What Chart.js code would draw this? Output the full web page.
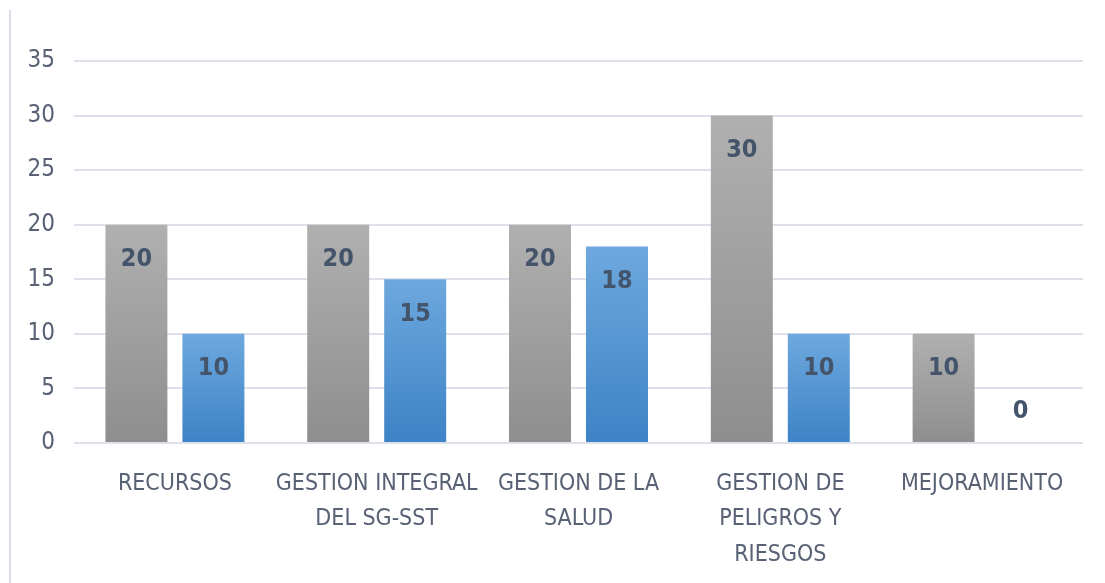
<!DOCTYPE html>
<html>
<head>
<meta charset="utf-8">
<script src="https://cdn.jsdelivr.net/npm/chart.js@4.4.0/dist/chart.umd.min.js"></script>
<style>
  html, body { margin: 0; padding: 0; background: #fff; }
  #wrap { width: 1105px; height: 583px; }
</style>
</head>
<body>
<div id="wrap"><canvas id="barChart"></canvas></div>
<script>
const categories = [
  ['RECURSOS'],
  ['GESTION INTEGRAL', 'DEL SG-SST'],
  ['GESTION DE LA', 'SALUD'],
  ['GESTION DE', 'PELIGROS Y', 'RIESGOS'],
  ['MEJORAMIENTO'],
];
const grayValues = [20, 20, 20, 30, 10];
const blueValues = [10, 15, 18, 10, 0];
const yTicks = [0, 5, 10, 15, 20, 25, 30, 35];

const fontFamily = "'Liberation Sans Narrow', 'DejaVu Sans Condensed', 'Liberation Sans', sans-serif";

// degradado por barra, del tope a la base
function barGradient(top, bottom) {
  return function (context) {
    const chart = context.chart;
    const yScale = chart.scales.y;
    if (!chart.chartArea || !yScale || context.parsed === undefined) return bottom;
    const yTop = yScale.getPixelForValue(context.parsed.y);
    const yBase = yScale.getPixelForValue(0);
    if (yBase - yTop < 1) return bottom;
    const g = chart.ctx.createLinearGradient(0, yTop, 0, yBase);
    g.addColorStop(0, top);
    g.addColorStop(1, bottom);
    return g;
  };
}

// linea del borde izquierdo
const frameLine = {
  id: 'frameLine',
  beforeDraw(chart) {
    const c = chart.ctx;
    c.save();
    c.strokeStyle = '#d9dde6';
    c.lineWidth = 2;
    c.beginPath();
    c.moveTo(10, 10);
    c.lineTo(10, chart.height);
    c.stroke();
    c.restore();
  },
};

// etiquetas de valor dentro de las barras
const valueLabels = {
  id: 'valueLabels',
  afterDatasetsDraw(chart) {
    const c = chart.ctx;
    c.save();
    c.font = 'bold 25px ' + fontFamily;
    c.fillStyle = '#44546a';
    c.textAlign = 'center';
    c.textBaseline = 'middle';
    chart.data.datasets.forEach((ds, i) => {
      const meta = chart.getDatasetMeta(i);
      meta.data.forEach((bar, j) => {
        const v = ds.data[j];
        const y = v === 0 ? bar.y - 32 : bar.y + 35;
        c.fillText(String(v), bar.x, y);
      });
    });
    c.restore();
  },
};

const ctx = document.getElementById('barChart');
const barChart = new Chart(ctx, {
  type: 'bar',
  data: {
    labels: categories,
    datasets: [
      {
        label: 'Serie 1',
        data: grayValues,
        backgroundColor: barGradient('#b0b0b0', '#8e8e8e'),
        categoryPercentage: 0.763,
        barPercentage: 0.805,
      },
      {
        label: 'Serie 2',
        data: blueValues,
        backgroundColor: barGradient('#6ea8de', '#3d83c6'),
        categoryPercentage: 0.763,
        barPercentage: 0.805,
      },
    ],
  },
  options: {
    responsive: true,
    maintainAspectRatio: false,
    animation: false,
    layout: {
      padding: { top: 61, right: 22, left: 0, bottom: 0 },
    },
    plugins: {
      legend: { display: false },
      tooltip: { enabled: false },
    },
    scales: {
      x: {
        grid: { display: false },
        border: { display: false },
        ticks: {
          color: '#586274',
          font: { family: fontFamily, size: 23, lineHeight: 1.54 },
          padding: 15,
          maxRotation: 0,
          autoSkip: false,
        },
        afterFit(scale) { scale.height = 140; },
      },
      y: {
        min: 0,
        max: 35,
        afterBuildTicks(scale) {
          scale.ticks = yTicks.map(v => ({ value: v }));
        },
        grid: {
          color: '#dde1ea',
          lineWidth: 2,
          drawTicks: false,
        },
        border: { display: false },
        ticks: {
          color: '#586274',
          font: { family: fontFamily, size: 24 },
          padding: 19,
        },
        afterFit(scale) { scale.width = 74; },
      },
    },
  },
  plugins: [frameLine, valueLabels],
});
</script>
</body>
</html>
